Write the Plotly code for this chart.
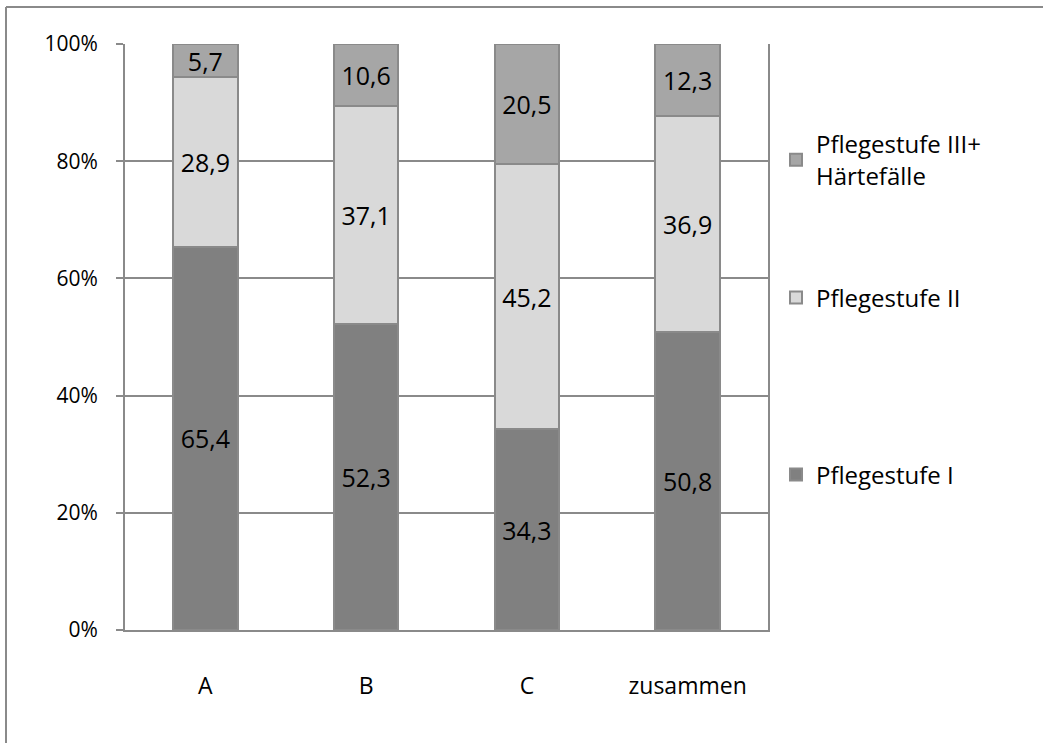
import plotly.graph_objects as go

categories = ["A", "B", "C", "zusammen"]
stufe_1 = [65.4, 52.3, 34.3, 50.8]
stufe_2 = [28.9, 37.1, 45.2, 36.9]
stufe_3 = [5.7, 10.6, 20.5, 12.3]

series_names = ["Pflegestufe I", "Pflegestufe II", "Pflegestufe III+<br>Härtefälle"]
y_ticks = [0, 20, 40, 60, 80, 100]

colors = ["#808080", "#D9D9D9", "#A6A6A6"]
edge = "#8A8A8A"
font_name = "Open Sans"

W, H = 1043, 743
L, R, T, B = 125, 275, 44, 113


def px_x(p):
    return (p - L) / (W - L - R)


def px_y(p):
    return (H - B - p) / (H - T - B)


fig = go.Figure()
legends = ["legend", "legend2", "legend3"]
for i, (name, vals) in enumerate(zip(series_names, [stufe_1, stufe_2, stufe_3])):
    fig.add_trace(go.Bar(
        x=categories, y=vals, name=name,
        marker=dict(color=colors[i], line=dict(color=edge, width=2)),
        text=[f"{v:.1f}".replace(".", ",") for v in vals],
        textposition="inside", insidetextanchor="middle",
        textfont=dict(size=25, color="black", family=font_name),
        legend=legends[i], showlegend=True,
        hoverinfo="skip",
    ))

leg_common = dict(
    font=dict(size=24, family=font_name, color="black"),
    bgcolor="rgba(0,0,0,0)", xanchor="left", yanchor="middle",
    itemsizing="constant",
)

fig.update_layout(
    width=W, height=H,
    margin=dict(l=L, r=R, t=T, b=B),
    paper_bgcolor="white", plot_bgcolor="white",
    barmode="stack", bargap=0.6, showlegend=True,
    uniformtext=dict(minsize=22, mode="show"),
    font=dict(family=font_name, color="black"),
    legend=dict(x=px_x(776), y=px_y(475), **leg_common),
    legend2=dict(x=px_x(776), y=px_y(298), **leg_common),
    legend3=dict(x=px_x(776), y=px_y(160), **leg_common),
    xaxis=dict(
        showline=True, linecolor=edge, linewidth=2,
        showgrid=False, ticks="", ticklabelstandoff=34,
        tickfont=dict(size=23, family=font_name, color="black"),
    ),
    yaxis=dict(
        range=[0, 100], tickvals=y_ticks,
        ticktext=[f"{v}%" for v in y_ticks],
        showgrid=True, gridcolor=edge, gridwidth=2,
        showline=True, linecolor=edge, linewidth=2, mirror=True,
        ticks="outside", ticklen=7, tickcolor=edge, tickwidth=2,
        ticklabelstandoff=14, zeroline=False,
        tickfont=dict(size=21, family=font_name, color="black"),
    ),
    shapes=[
        dict(type="line", xref="paper", yref="paper",
             x0=px_x(6), x1=px_x(1060), y0=px_y(7), y1=px_y(7),
             line=dict(color=edge, width=2)),
        dict(type="line", xref="paper", yref="paper",
             x0=px_x(6), x1=px_x(6), y0=px_y(7), y1=px_y(760),
             line=dict(color=edge, width=2)),
    ],
)

fig.write_html(
    "out.html",
    config={"displayModeBar": False},
    post_script="document.body.style.margin='0';",
)
